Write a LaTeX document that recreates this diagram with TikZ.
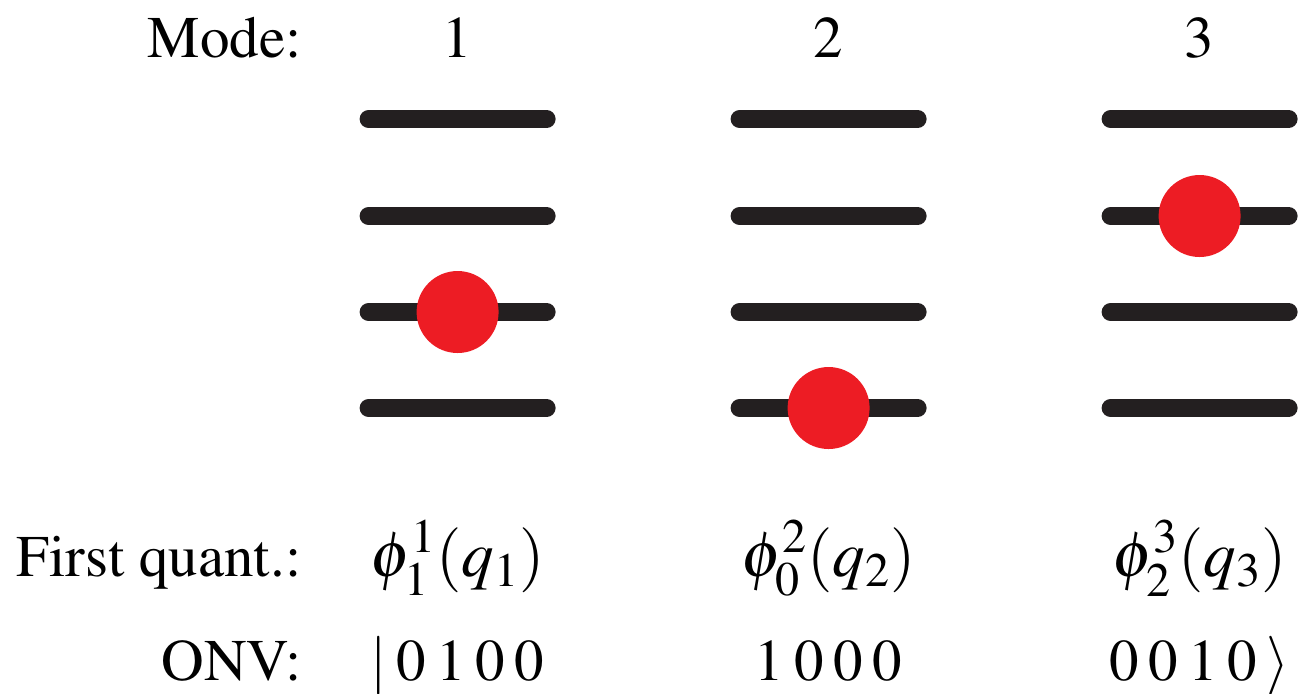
\documentclass[tikz,border=0pt]{standalone}
\usepackage[T1]{fontenc}
\usepackage{mathptmx}
\usetikzlibrary{matrix,calc}
\definecolor{levelblack}{HTML}{231F20}
\definecolor{dotred}{HTML}{ED1C24}

\begin{document}
\begin{tikzpicture}[x=0.5pt, y=-0.5pt,
    level/.style={draw=levelblack, line width=9pt, line cap=round},
    electron/.style={circle, fill=dotred, inner sep=0pt, minimum size=41pt},
    bigmath/.style={font=\fontsize{32.5}{38}\selectfont}]
  \useasboundingbox (0,0) rectangle (1309,693);
  \matrix (m) [matrix of nodes, anchor=north east, inner sep=0pt,
    column sep=85.5pt, row sep=14pt,
    nodes={anchor=base, inner sep=0pt, minimum width=100pt,
      text height=26pt, text depth=12pt,
      font=\fontsize{29.5}{35}\selectfont},
    column 1/.style={nodes={anchor=base east, minimum width=0pt}}]
    at (1300,5)
  {
    Mode: &[-57.5pt] 1 & 2 & 3 \\[207.5pt]
    First quant.: &[-57.5pt] |[bigmath]| $\phi_1^1(q_1)$ & |[bigmath]| $\phi_0^2(q_2)$ & |[bigmath]| $\phi_2^3(q_3)$ \\
    ONV: &[-57.5pt] $|$\,0\,1\,0\,0 & 1\,0\,0\,0 & 0\,0\,1\,0\,$\rangle$ \\
  };
  \foreach \c in {2,3,4}
    \foreach \y in {119,216,312,408}
      \draw[level] ($(m-1-\c.base |- 0,\y)+(-89,0)$) -- ($(m-1-\c.base |- 0,\y)+(89,0)$);
  \node[electron] (e1) at (m-1-2.base |- 0,312) {};
  \node[electron] (e2) at (m-1-3.base |- 0,408) {};
  \node[electron] (e3) at (m-1-4.base |- 0,216) {};
\end{tikzpicture}
\end{document}
